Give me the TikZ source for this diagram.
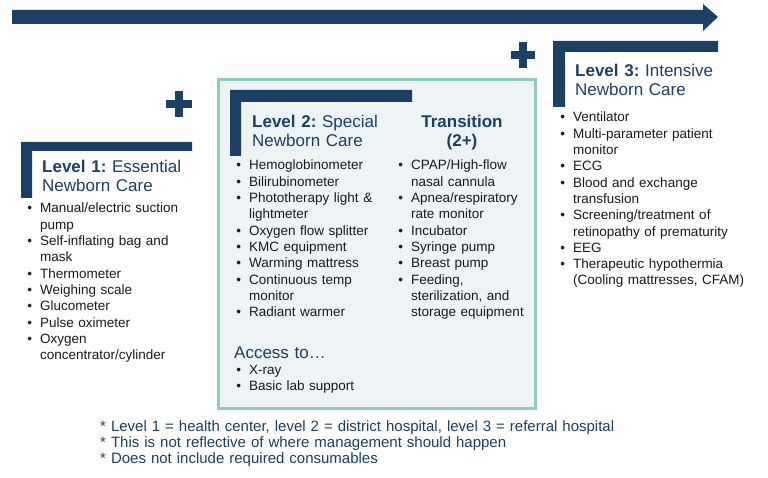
\documentclass[tikz,border=0pt]{standalone}
\usepackage{fontspec}
\setmainfont{Liberation Sans}
\definecolor{navy}{HTML}{1C3F66}
\definecolor{teal}{HTML}{8ECDBE}
\definecolor{boxfill}{HTML}{EEF3F6}
\definecolor{txt}{HTML}{1A1A1A}
\newcommand\bu{\makebox[0pt][r]{\textbullet\hspace{8pt}}}
\begin{document}
\begin{tikzpicture}[x=1pt,y=-1pt,
  itemlist/.style={anchor=base west, inner sep=0pt, text width=#1, align=left,
    font=\fontsize{13.5}{16.3}\selectfont\frenchspacing, text=txt},
  lvltitle/.style={anchor=base west, inner sep=0pt, text width=#1, align=left,
    font=\fontsize{17}{18.5}\selectfont\frenchspacing, text=navy},
  bar/.style={fill=navy, draw=none},
  note/.style={anchor=base west, inner sep=0pt, text width=560pt, align=left,
    font=\fontsize{15}{16.3}\selectfont\frenchspacing, text=navy}]
\useasboundingbox (0,0) rectangle (768,478);
\fill[white] (0,0) rectangle (768,478);
% timeline arrow
\fill[bar] (12,10) -- (703,10) -- (703,4) -- (718,17) -- (703,31) -- (703,24) -- (12,24) -- cycle;
% plus signs
\fill[bar] (166,100) rectangle (192,108);
\fill[bar] (175,91) rectangle (183,117);
\fill[bar] (511,51) rectangle (535,59);
\fill[bar] (519,42) rectangle (527,68);
% level 2 box
\draw[draw=teal, fill=boxfill, line width=3pt] (218.5,79.5) rectangle (535.5,408.5);
% brackets
\fill[bar] (21,142) -- (192,142) -- (192,151) -- (32,151) -- (32,198) -- (21,198) -- cycle;
\fill[bar] (230,90) -- (412,90) -- (412,102) -- (241,102) -- (241,156) -- (230,156) -- cycle;
\fill[bar] (553,41) -- (718,41) -- (718,52) -- (565,52) -- (565,107) -- (553,107) -- cycle;
% titles
\node[lvltitle=170pt] (t1) at (42,173) {\textbf{Level 1:} Essential\\Newborn Care};
\node[lvltitle=170pt] (t2) at (252,128) {\textbf{Level 2:} Special\\Newborn Care};
\node[lvltitle=170pt] (t3) at (575,77) {\textbf{Level 3:} Intensive\\Newborn Care};
\node[anchor=base, inner sep=0pt, text width=120pt, align=center, font=\fontsize{17}{18.5}\selectfont\bfseries, text=navy] (tt) at (462,128) {Transition\\(2+)};
\node[lvltitle=170pt] (acc) at (234,358) {Access to…};
% lists
\node[itemlist=175pt] (l1) at (40,213) {\bu Manual/electric suction\\pump\\\bu Self-inflating bag and\\mask\\\bu Thermometer\\\bu Weighing scale\\\bu Glucometer\\\bu Pulse oximeter\\\bu Oxygen\\concentrator/cylinder};
\node[itemlist=150pt] (l2) at (249,170) {\bu Hemoglobinometer\\\bu Bilirubinometer\\\bu Phototherapy light \&\\lightmeter\\\bu Oxygen flow splitter\\\bu KMC equipment\\\bu Warming mattress\\\bu Continuous temp\\monitor\\\bu Radiant warmer};
\node[itemlist=125pt] (lt) at (411,170) {\bu CPAP/High-flow\\nasal cannula\\\bu Apnea/respiratory\\rate monitor\\\bu Incubator\\\bu Syringe pump\\\bu Breast pump\\\bu Feeding,\\sterilization, and\\storage equipment};
\node[itemlist=150pt] (la) at (249,374) {\bu X-ray\\\bu Basic lab support};
\node[itemlist=190pt] (l3) at (573,122) {\bu Ventilator\\\bu Multi-parameter patient\\monitor\\\bu ECG\\\bu Blood and exchange\\transfusion\\\bu Screening/treatment of\\retinopathy of prematurity\\\bu EEG\\\bu Therapeutic hypothermia\\(Cooling mattresses, CFAM)};
% footnotes
\node[note] (fn) at (100,431) {* Level 1 = health center, level 2 = district hospital, level 3 = referral hospital\\{}* This is not reflective of where management should happen\\{}* Does not include required consumables};
\end{tikzpicture}
\end{document}
